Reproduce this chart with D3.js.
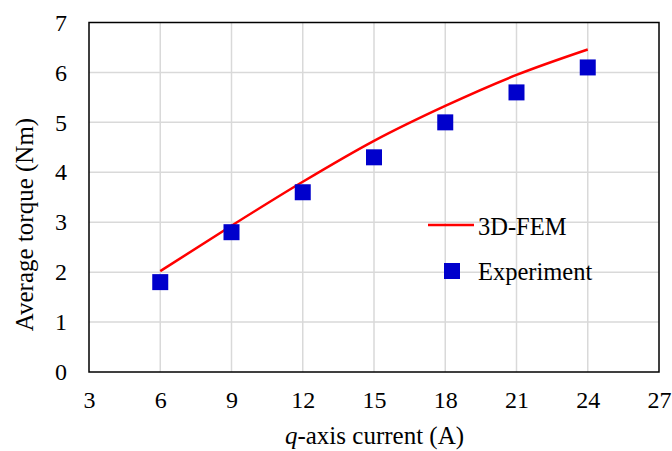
<!DOCTYPE html>
<html>
<head>
<meta charset="utf-8">
<script src="https://cdn.jsdelivr.net/npm/d3@7"></script>
<style>
  body { margin: 0; background: #fff; }
  svg text { font-family: "Liberation Serif", "DejaVu Serif", serif; fill: #000; }
</style>
</head>
<body>
<svg id="chart" width="672" height="451"></svg>
<script>
const currents = [6, 9, 12, 15, 18, 21, 24];
const femTorque = [2.02, 2.93, 3.81, 4.63, 5.33, 5.95, 6.46];
const expTorque = [1.8, 2.8, 3.6, 4.3, 5.0, 5.6, 6.1];
const xTicks = [3, 6, 9, 12, 15, 18, 21, 24, 27];
const yTicks = [0, 1, 2, 3, 4, 5, 6, 7];
const seriesNames = ["3D-FEM", "Experiment"];

const FS = "24px";
const svg = d3.select("#chart");
const m = { left: 89, right: 659, top: 22.5, bottom: 372 };
const x = d3.scaleLinear().domain([3, 27]).range([m.left, m.right]);
const y = d3.scaleLinear().domain([0, 7]).range([m.bottom, m.top]);

// gridlines
svg.append("g").selectAll("line").data(xTicks.slice(1, -1)).join("line")
  .attr("x1", d => x(d)).attr("x2", d => x(d))
  .attr("y1", m.top).attr("y2", m.bottom)
  .attr("stroke", "#d9d9d9").attr("stroke-width", 1.5);
svg.append("g").selectAll("line").data(yTicks.slice(1, -1)).join("line")
  .attr("y1", d => y(d)).attr("y2", d => y(d))
  .attr("x1", m.left).attr("x2", m.right)
  .attr("stroke", "#d9d9d9").attr("stroke-width", 1.5);

// axes (labels only)
const xAxis = svg.append("g").attr("transform", `translate(0,${m.bottom})`)
  .call(d3.axisBottom(x).tickValues(xTicks).tickSize(0).tickPadding(19).tickFormat(d3.format("d")));
xAxis.select(".domain").remove();
xAxis.attr("font-family", null);
xAxis.selectAll("text").style("font-size", FS);

const yAxis = svg.append("g").attr("transform", `translate(${m.left},0)`)
  .call(d3.axisLeft(y).tickValues(yTicks).tickSize(0).tickPadding(22).tickFormat(d3.format("d")));
yAxis.select(".domain").remove();
yAxis.attr("font-family", null);
yAxis.selectAll("text").style("font-size", FS);

// frame
svg.append("rect").attr("x", m.left).attr("y", m.top)
  .attr("width", m.right - m.left).attr("height", m.bottom - m.top)
  .attr("fill", "none").attr("stroke", "#000").attr("stroke-width", 1.5);

// FEM line
const line = d3.line().x((d, i) => x(currents[i])).y(d => y(d)).curve(d3.curveMonotoneX);
svg.append("path").datum(femTorque).attr("d", line)
  .attr("fill", "none").attr("stroke", "#ff0000").attr("stroke-width", 2.5);

// Experiment squares
const sq = 16;
svg.append("g").selectAll("rect").data(expTorque).join("rect")
  .attr("x", (d, i) => x(currents[i]) - sq / 2)
  .attr("y", d => y(d) - sq / 2)
  .attr("width", sq).attr("height", sq)
  .attr("fill", "#0000cc");

// legend
const lg = svg.append("g");
lg.append("line").attr("x1", 428).attr("x2", 474).attr("y1", 225).attr("y2", 225)
  .attr("stroke", "#ff0000").attr("stroke-width", 2.5);
lg.append("text").attr("x", 478).attr("y", 226).attr("dy", "0.35em")
  .style("font-size", "24.5px").text(seriesNames[0]);
lg.append("rect").attr("x", 444).attr("y", 263).attr("width", sq).attr("height", sq)
  .attr("fill", "#0000cc");
lg.append("text").attr("x", 478).attr("y", 271).attr("dy", "0.35em")
  .style("font-size", "24.5px").text(seriesNames[1]);

// axis titles
const xt = svg.append("text").attr("x", 374.5).attr("y", 444).attr("text-anchor", "middle")
  .style("font-size", "25px");
xt.append("tspan").style("font-style", "italic").text("q");
xt.append("tspan").text("-axis current (A)");

svg.append("text").attr("transform", `translate(33,224.5) rotate(-90)`)
  .attr("text-anchor", "middle").style("font-size", "25px")
  .text("Average torque (Nm)");
</script>
</body>
</html>
